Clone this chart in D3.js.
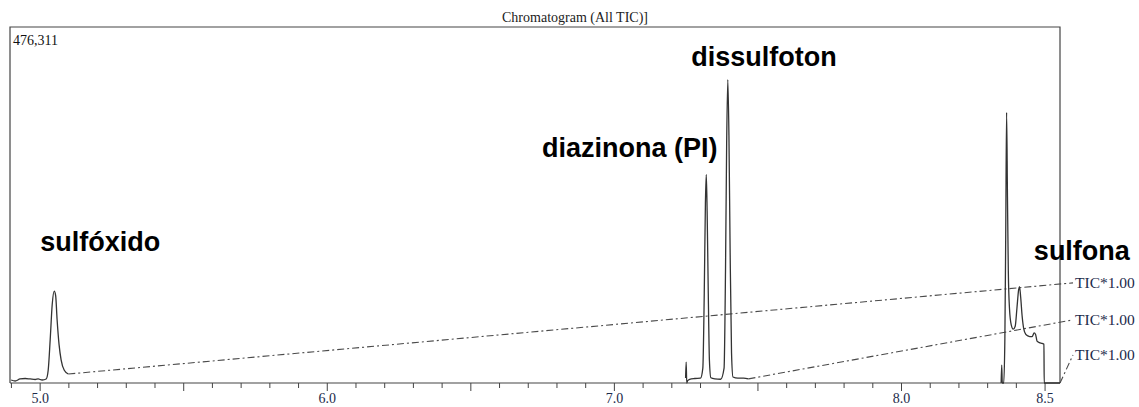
<!DOCTYPE html>
<html>
<head>
<meta charset="utf-8">
<script src="https://cdn.jsdelivr.net/npm/d3@7"></script>
<style>
  body { margin: 0; background: #fff; }
  #chromatogram svg { display: block; }
</style>
</head>
<body>
<div id="chromatogram"></div>
<script>
// retention time (min) and TIC intensity
const sulfoxidoTrace = [
  [4.899, 4000], [4.913, 2700], [4.930, 5400], [4.948, 6000], [4.965, 5400],
  [4.983, 4700], [4.993, 5400], [5.007, 4000], [5.021, 5400], [5.028, 17000],
  [5.035, 58000], [5.042, 105000], [5.049, 123000], [5.054, 117000],
  [5.059, 85000], [5.066, 51000], [5.073, 31000], [5.084, 17000], [5.098, 12000]
];
const diazinonaTrace = [
  [7.248, 6700], [7.250, 28000], [7.252, 0], [7.255, 3000], [7.262, 5000],
  [7.280, 6000], [7.300, 6500], [7.308, 20000], [7.313, 120000],
  [7.317, 240000], [7.320, 279000], [7.323, 230000], [7.327, 120000],
  [7.331, 30000], [7.336, 7000], [7.350, 5500], [7.370, 5000],
  [7.382, 20000], [7.387, 150000], [7.391, 320000], [7.395, 406000],
  [7.399, 330000], [7.403, 180000], [7.408, 40000], [7.413, 8000],
  [7.430, 6500], [7.450, 6500], [7.467, 5500]
];
const sulfonaTrace = [
  [8.347, 0], [8.349, 24000], [8.351, 0], [8.356, 0], [8.360, 60000],
  [8.363, 200000], [8.366, 362000], [8.369, 250000], [8.372, 150000],
  [8.376, 100000], [8.382, 78000], [8.389, 72000], [8.396, 76000],
  [8.402, 100000], [8.408, 125000], [8.411, 129000], [8.415, 115000],
  [8.420, 90000], [8.426, 72000], [8.433, 65000], [8.440, 63000],
  [8.447, 62000], [8.455, 62000], [8.462, 67000], [8.467, 65000],
  [8.472, 56000], [8.480, 54000], [8.490, 53000], [8.496, 52000],
  [8.497, 0], [8.552, 0]
];
const traces = [sulfoxidoTrace, diazinonaTrace, sulfonaTrace];
const ticLabels = ["TIC*1.00", "TIC*1.00", "TIC*1.00"];
const ticLevels = [134000, 84500, 37500]; // where each offset line meets its label
const xTicks = [5.0, 6.0, 7.0, 8.0, 8.5];
const maxIntensity = 476311;
const compounds = [
  { name: "sulfóxido", t: 5.0, v: 176000 },
  { name: "diazinona (PI)", t: 6.748, v: 302000 },
  { name: "dissulfoton", t: 7.268, v: 424000 },
  { name: "sulfona", t: 8.461, v: 164500 }
];

const width = 1139, height = 407;
const margin = { top: 27, right: 79, bottom: 24, left: 10 };

const svg = d3.select("#chromatogram")
  .append("svg")
  .attr("width", width)
  .attr("height", height);

const x = d3.scaleLinear()
  .domain([4.895, 8.552])
  .range([margin.left, width - margin.right]);
const y = d3.scaleLinear()
  .domain([0, maxIntensity])
  .range([height - margin.bottom, margin.top]);

const x0 = x.range()[0], x1 = x.range()[1];
const yBase = y(0), yTop = y(maxIntensity);

// frame
svg.append("path")
  .attr("d", `M${x0},${yBase}V${yTop}H${x1}V${yBase}`)
  .attr("fill", "none")
  .attr("stroke", "#444")
  .attr("stroke-width", 1.2);

// title
svg.append("text")
  .attr("x", 575).attr("y", 22)
  .attr("text-anchor", "middle")
  .attr("font-family", "Liberation Serif, serif")
  .attr("font-size", 14)
  .attr("fill", "#222")
  .text("Chromatogram (All TIC)]");

svg.append("text")
  .attr("x", x0 + 3).attr("y", yTop + 18)
  .attr("font-family", "Liberation Serif, serif")
  .attr("font-size", 14)
  .attr("fill", "#111")
  .text(d3.format(",")(maxIntensity));

// x axis: minor ticks each 0.1, longer ones each 0.5
const minor = d3.range(49, 86).map(d => d / 10);
const axis = svg.append("g").attr("transform", `translate(0,${yBase})`);
axis.append("line")
  .attr("x1", x0).attr("x2", x1)
  .attr("stroke", "#444").attr("stroke-width", 1.2);
axis.selectAll(".tick")
  .data(minor.filter(d => x(d) >= x0 && x(d) <= x1))
  .join("line")
  .attr("x1", d => x(d)).attr("x2", d => x(d))
  .attr("y1", 0)
  .attr("y2", d => (Math.round(d * 10) % 5 === 0 ? 8 : 5))
  .attr("stroke", "#444");
axis.selectAll(".lbl")
  .data(xTicks)
  .join("text")
  .attr("x", d => x(d))
  .attr("y", 20)
  .attr("text-anchor", "middle")
  .attr("font-family", "Liberation Serif, serif")
  .attr("font-size", 14)
  .attr("fill", "#1c2a4a")
  .text(d => d.toFixed(1));

// offset lines from each trace end to its TIC label
const labelX = x1 + 13;
traces.forEach((tr, i) => {
  const last = tr[tr.length - 1];
  svg.append("line")
    .attr("x1", x(last[0])).attr("y1", y(last[1]))
    .attr("x2", labelX).attr("y2", y(ticLevels[i]))
    .attr("stroke", "#4a4a4a")
    .attr("stroke-width", 1.1)
    .attr("stroke-dasharray", "7,3,2,3");
  svg.append("text")
    .attr("x", labelX + 2).attr("y", y(ticLevels[i]) + 5)
    .attr("font-family", "Liberation Serif, serif")
    .attr("font-size", 15.5)
    .attr("fill", "#1c2a4a")
    .text(ticLabels[i]);
});

// traces
const line = d3.line()
  .x(d => x(d[0]))
  .y(d => y(d[1]))
  .curve(d3.curveMonotoneX);
svg.selectAll(".trace")
  .data(traces)
  .join("path")
  .attr("d", line)
  .attr("fill", "none")
  .attr("stroke", "#333")
  .attr("stroke-width", 1.3);

// compound names
svg.selectAll(".name")
  .data(compounds)
  .join("text")
  .attr("x", d => x(d.t))
  .attr("y", d => y(d.v))
  .attr("font-family", "Liberation Sans, Arial, sans-serif")
  .attr("font-weight", "bold")
  .attr("font-size", 27)
  .attr("fill", "#000")
  .text(d => d.name);
</script>
</body>
</html>
